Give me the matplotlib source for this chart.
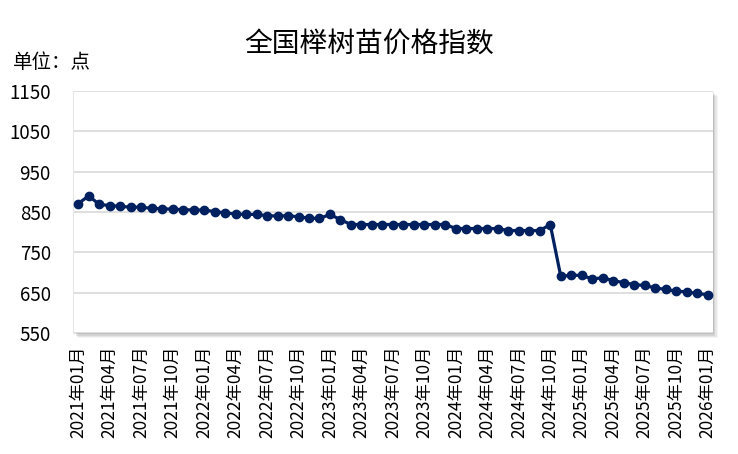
import matplotlib
matplotlib.use("Agg")
import matplotlib.pyplot as plt
from matplotlib.patches import Rectangle

plt.rcParams['font.family'] = ['Noto Sans CJK SC', 'DejaVu Sans']

# monthly index, 2021-01 .. 2026-01
months = []
for y in range(2021, 2027):
    for m in range(1, 13):
        months.append("{}年{:02d}月".format(y, m))
months = months[:61]

values = [871, 890, 869, 866, 864, 862, 862, 859, 858, 857,
          856, 855, 855, 851, 848, 845, 844, 844, 841, 840,
          841, 838, 835, 834, 844, 831, 819, 819, 819, 819,
          819, 819, 819, 819, 819, 819, 809, 809, 809, 809,
          809, 804, 804, 804, 804, 819, 691, 693, 693, 684,
          687, 680, 675, 670, 668, 662, 658, 654, 652, 648,
          645]

yticks = [550, 650, 750, 850, 950, 1050, 1150]

fig = plt.figure(figsize=(7.38, 4.54), dpi=100)
ax = fig.add_axes([0.0989, 0.2665, 0.867, 0.533])

# soft shadow behind plot area
x0, y0, w, h = ax.get_position().bounds
for i, a in enumerate([0.10, 0.08, 0.06, 0.04]):
    off = (i + 1) * 1.3
    fig.patches.append(Rectangle((x0 + off / 738, y0 - off / 454), w, h,
                                 transform=fig.transFigure, color='#000000',
                                 alpha=a, zorder=0, lw=0))
fig.patches.append(Rectangle((x0, y0), w, h, transform=fig.transFigure,
                             color='white', zorder=0.5, lw=0))
ax.set_zorder(1)
ax.patch.set_alpha(0)

xs = list(range(len(values)))
ax.plot(xs, values, color='#002060', lw=2.3, marker='o', ms=6, zorder=3)

ax.set_xlim(-0.5, 60.5)
ax.set_ylim(550, 1150)
ax.set_yticks(yticks)
ax.set_yticklabels([str(v) for v in yticks])
ax.grid(axis='y', color='#d9d9d9', lw=1.2)
ax.set_axisbelow(True)

ax.set_xticks(xs[::3])
ax.set_xticklabels(months[::3], rotation=90)

for s in ['top', 'right', 'bottom']:
    ax.spines[s].set_visible(False)
ax.spines['left'].set_color('#e6e6e6')
ax.tick_params(axis='both', length=0)
ax.tick_params(axis='y', labelsize=13.5, pad=16)
ax.tick_params(axis='x', labelsize=12.5, pad=9)

fig.text(0.5, 0.905, "全国榉树苗价格指数", ha='center', va='center', fontsize=20)
fig.text(0.018, 0.862, "单位：点", ha='left', va='center', fontsize=14)

fig.savefig("out.png", dpi=100)
